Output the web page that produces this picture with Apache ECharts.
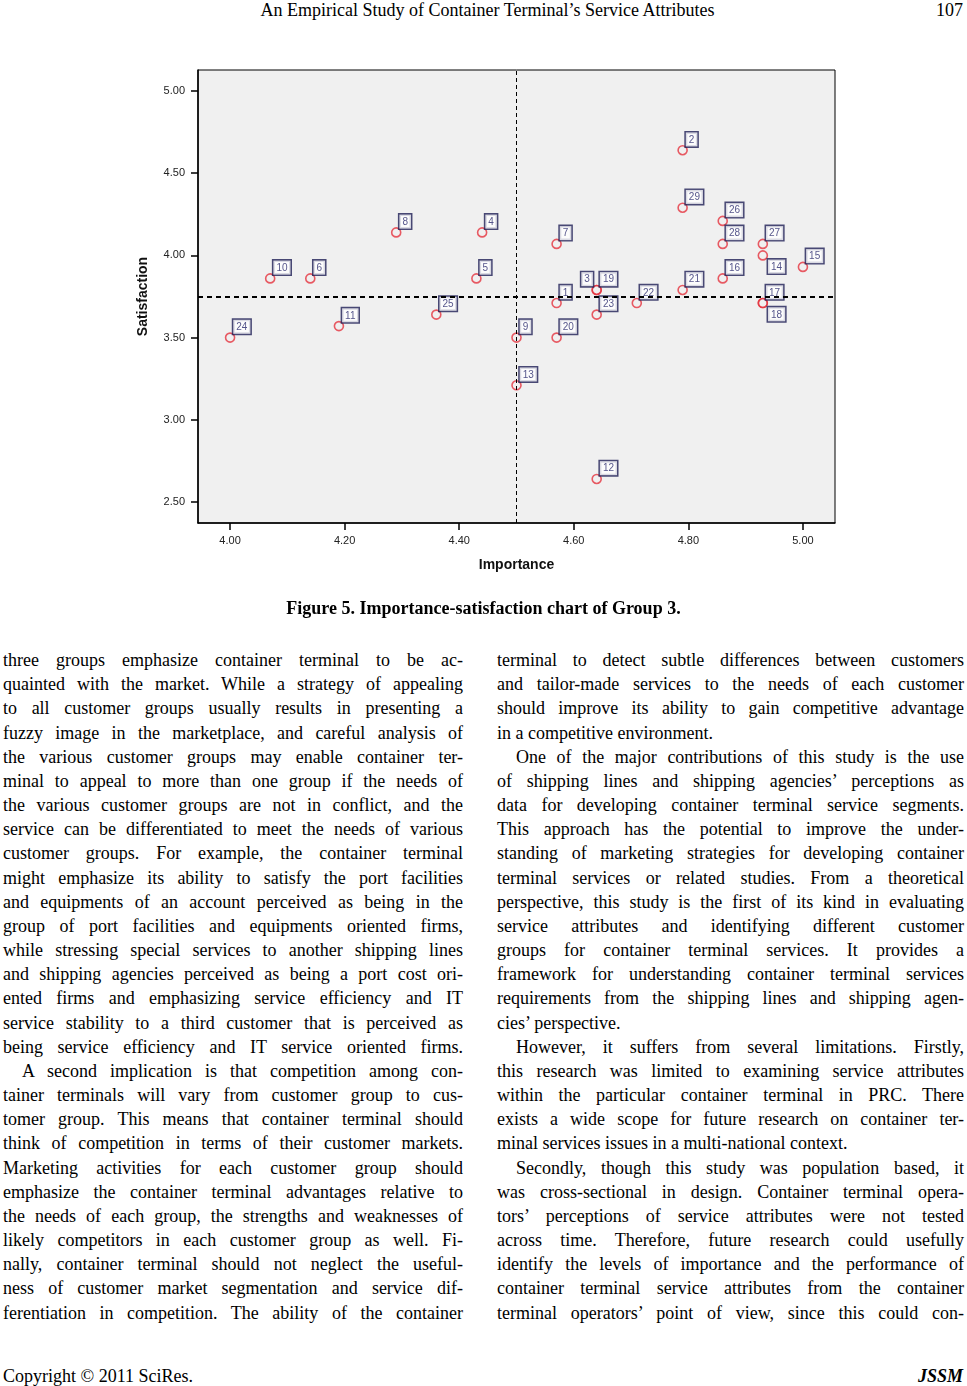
<!DOCTYPE html>
<html>
<head>
<meta charset="utf-8">
<script src="https://cdn.jsdelivr.net/npm/echarts@6/dist/echarts.min.js"></script>
<style>
  html, body { margin: 0; padding: 0; background: #fff; }
  body { width: 967px; height: 1386px; position: relative; overflow: hidden; font-family: "Liberation Serif", "Times New Roman", serif; color: #000; }
  #chart { position: absolute; left: 0; top: 0; width: 967px; height: 600px; }
  .hdr { position: absolute; top: 0; font-size: 18px; line-height: 20px; }
  .caption { position: absolute; top: 597px; left: 0; width: 967px; text-align: center; font-weight: bold; font-size: 18px; line-height: 22px; }
  .col { position: absolute; top: 648px; font-size: 18px; line-height: 24.17px; }
  .col div { text-align: justify; text-align-last: justify; white-space: nowrap; overflow: visible; }
  .col div.last { text-align-last: left; }
  .col div.ind { text-indent: 19px; }
  .foot { position: absolute; top: 1366px; font-size: 18px; line-height: 20px; }
</style>
</head>
<body>
<div class="hdr" style="left:0;width:975px;text-align:center;">An Empirical Study of Container Terminal’s Service Attributes</div>
<div class="hdr" style="right:4px;">107</div>
<div id="chart"></div>
<div class="caption">Figure 5. Importance-satisfaction chart of Group 3.</div>
<div class="col" id="leftCol" style="left:3px;width:460px;"></div>
<div class="col" id="rightCol" style="left:497px;width:467px;"></div>
<div class="foot" style="left:3px;">Copyright © 2011 SciRes.</div>
<div class="foot" style="right:4px;font-weight:bold;font-style:italic;">JSSM</div>
<script>
// ---- chart data ----
const attributeIds = ['1','2','3','4','5','6','7','8','9','10','11','12','13','14','15','16','17','18','19','20','21','22','23','24','25','26','27','28','29'];
const importance   = [4.57,4.79,4.64,4.44,4.43,4.14,4.57,4.29,4.50,4.07,4.19,4.64,4.50,4.93,5.00,4.86,4.93,4.93,4.64,4.57,4.79,4.71,4.64,4.00,4.36,4.86,4.93,4.86,4.79];
const satisfaction = [3.71,4.64,3.79,4.14,3.86,3.86,4.07,4.14,3.50,3.86,3.57,2.64,3.21,4.00,3.93,3.86,3.71,3.71,3.79,3.50,3.79,3.71,3.64,3.50,3.64,4.21,4.07,4.07,4.29];
const meanImportance = 4.50;
const meanSatisfaction = 3.75;
const xTickValues = [4.00, 4.20, 4.40, 4.60, 4.80, 5.00];
const yTickValues = [2.50, 3.00, 3.50, 4.00, 4.50, 5.00];
const xLabel = 'Importance';
const yLabel = 'Satisfaction';

// label placement (style only)
const labelPlacement = { '3': 'upperLeft', '14': 'lowerRight', '18': 'lowerRight' };
const SYM = 9;
function labelPos(id) {
  const r = SYM / 2;
  const p = labelPlacement[id] || 'upperRight';
  if (p === 'upperLeft') return { position: [r - 3, r - 3], align: 'right', verticalAlign: 'bottom' };
  if (p === 'lowerRight') return { position: [r + 6, r + 5], align: 'left', verticalAlign: 'top' };
  return { position: [r + 4, r - 3], align: 'left', verticalAlign: 'bottom' };
}

const points = attributeIds.map((id, i) => {
  const lp = labelPos(id);
  return {
    name: id,
    value: [importance[i], satisfaction[i]],
    label: { position: lp.position, align: lp.align, verticalAlign: lp.verticalAlign }
  };
});

const chart = echarts.init(document.getElementById('chart'), null, { renderer: 'canvas' });
chart.setOption({
  animation: false,
  backgroundColor: 'transparent',
  grid: {
    left: 198, top: 70, width: 637, height: 453,
    show: true, backgroundColor: '#f0f0f0', borderColor: '#000', borderWidth: 1
  },
  xAxis: {
    type: 'value', min: 3.944, max: 5.056,
    name: xLabel, nameLocation: 'middle', nameGap: 35,
    nameTextStyle: { fontFamily: 'Liberation Sans, Arial', fontWeight: 'bold', fontSize: 14, color: '#111' },
    axisLine: { show: true, onZero: false, lineStyle: { color: '#000', width: 1.5 } },
    axisTick: { show: true, length: 7, customValues: xTickValues, lineStyle: { color: '#000', width: 1.5 } },
    axisLabel: { customValues: xTickValues, margin: 12, fontFamily: 'Liberation Sans, Arial', fontSize: 11, color: '#222', formatter: v => v.toFixed(2) },
    splitLine: { show: false }
  },
  yAxis: {
    type: 'value', min: 2.372, max: 5.128,
    name: yLabel, nameLocation: 'middle', nameGap: 48,
    nameTextStyle: { fontFamily: 'Liberation Sans, Arial', fontWeight: 'bold', fontSize: 14, color: '#111' },
    axisLine: { show: true, onZero: false, lineStyle: { color: '#000', width: 1.5 } },
    axisTick: { show: true, length: 7, customValues: yTickValues, lineStyle: { color: '#000', width: 1.5 } },
    axisLabel: { customValues: yTickValues, margin: 13, fontFamily: 'Liberation Sans, Arial', fontSize: 11, color: '#222', formatter: v => v.toFixed(2) },
    splitLine: { show: false }
  },
  series: [
    {
      type: 'scatter',
      z: 1,
      data: [],
      markLine: {
        silent: true, symbol: 'none', animation: false,
        label: { show: false },
        data: [
          { xAxis: meanImportance, lineStyle: { type: [4, 3], color: '#000', width: 1 } },
          { yAxis: meanSatisfaction, lineStyle: { type: [5, 4], color: '#000', width: 2 } }
        ]
      }
    },
    {
      type: 'scatter',
      z: 3,
      symbol: 'circle',
      symbolSize: SYM,
      itemStyle: { color: 'rgba(0,0,0,0)', borderColor: '#e5333f', borderWidth: 1.6 },
      label: {
        show: true,
        formatter: p => p.name,
        fontFamily: 'Liberation Sans, Arial',
        fontSize: 10,
        color: '#2a2a6e',
        backgroundColor: '#fff',
        borderColor: '#1e1e55',
        borderWidth: 1.5,
        padding: [2, 3, 1, 3],
        lineHeight: 11
      },
      labelLayout: { hideOverlap: false },
      data: points
    }
  ]
});

// ---- body text ----
const leftLines = [
  ['three groups emphasize container terminal to be ac-', ''],
  ['quainted with the market. While a strategy of appealing', ''],
  ['to all customer groups usually results in presenting a', ''],
  ['fuzzy image in the marketplace, and careful analysis of', ''],
  ['the various customer groups may enable container ter-', ''],
  ['minal to appeal to more than one group if the needs of', ''],
  ['the various customer groups are not in conflict, and the', ''],
  ['service can be differentiated to meet the needs of various', ''],
  ['customer groups. For example, the container terminal', ''],
  ['might emphasize its ability to satisfy the port facilities', ''],
  ['and equipments of an account perceived as being in the', ''],
  ['group of port facilities and equipments oriented firms,', ''],
  ['while stressing special services to another shipping lines', ''],
  ['and shipping agencies perceived as being a port cost ori-', ''],
  ['ented firms and emphasizing service efficiency and IT', ''],
  ['service stability to a third customer that is perceived as', ''],
  ['being service efficiency and IT service oriented firms.', ''],
  ['A second implication is that competition among con-', 'ind'],
  ['tainer terminals will vary from customer group to cus-', ''],
  ['tomer group. This means that container terminal should', ''],
  ['think of competition in terms of their customer markets.', ''],
  ['Marketing activities for each customer group should', ''],
  ['emphasize the container terminal advantages relative to', ''],
  ['the needs of each group, the strengths and weaknesses of', ''],
  ['likely competitors in each customer group as well. Fi-', ''],
  ['nally, container terminal should not neglect the useful-', ''],
  ['ness of customer market segmentation and service dif-', ''],
  ['ferentiation in competition. The ability of the container', '']
];
const rightLines = [
  ['terminal to detect subtle differences between customers', ''],
  ['and tailor-made services to the needs of each customer', ''],
  ['should improve its ability to gain competitive advantage', ''],
  ['in a competitive environment.', 'last'],
  ['One of the major contributions of this study is the use', 'ind'],
  ['of shipping lines and shipping agencies’ perceptions as', ''],
  ['data for developing container terminal service segments.', ''],
  ['This approach has the potential to improve the under-', ''],
  ['standing of marketing strategies for developing container', ''],
  ['terminal services or related studies. From a theoretical', ''],
  ['perspective, this study is the first of its kind in evaluating', ''],
  ['service attributes and identifying different customer', ''],
  ['groups for container terminal services. It provides a', ''],
  ['framework for understanding container terminal services', ''],
  ['requirements from the shipping lines and shipping agen-', ''],
  ['cies’ perspective.', 'last'],
  ['However, it suffers from several limitations. Firstly,', 'ind'],
  ['this research was limited to examining service attributes', ''],
  ['within the particular container terminal in PRC. There', ''],
  ['exists a wide scope for future research on container ter-', ''],
  ['minal services issues in a multi-national context.', 'last'],
  ['Secondly, though this study was population based, it', 'ind'],
  ['was cross-sectional in design. Container terminal opera-', ''],
  ['tors’ perceptions of service attributes were not tested', ''],
  ['across time. Therefore, future research could usefully', ''],
  ['identify the levels of importance and the performance of', ''],
  ['container terminal service attributes from the container', ''],
  ['terminal operators’ point of view, since this could con-', '']
];
function fill(el, lines) {
  lines.forEach(([t, cls]) => {
    const d = document.createElement('div');
    d.textContent = t;
    if (cls) d.className = cls;
    el.appendChild(d);
  });
}
fill(document.getElementById('leftCol'), leftLines);
fill(document.getElementById('rightCol'), rightLines);
</script>
</body>
</html>
